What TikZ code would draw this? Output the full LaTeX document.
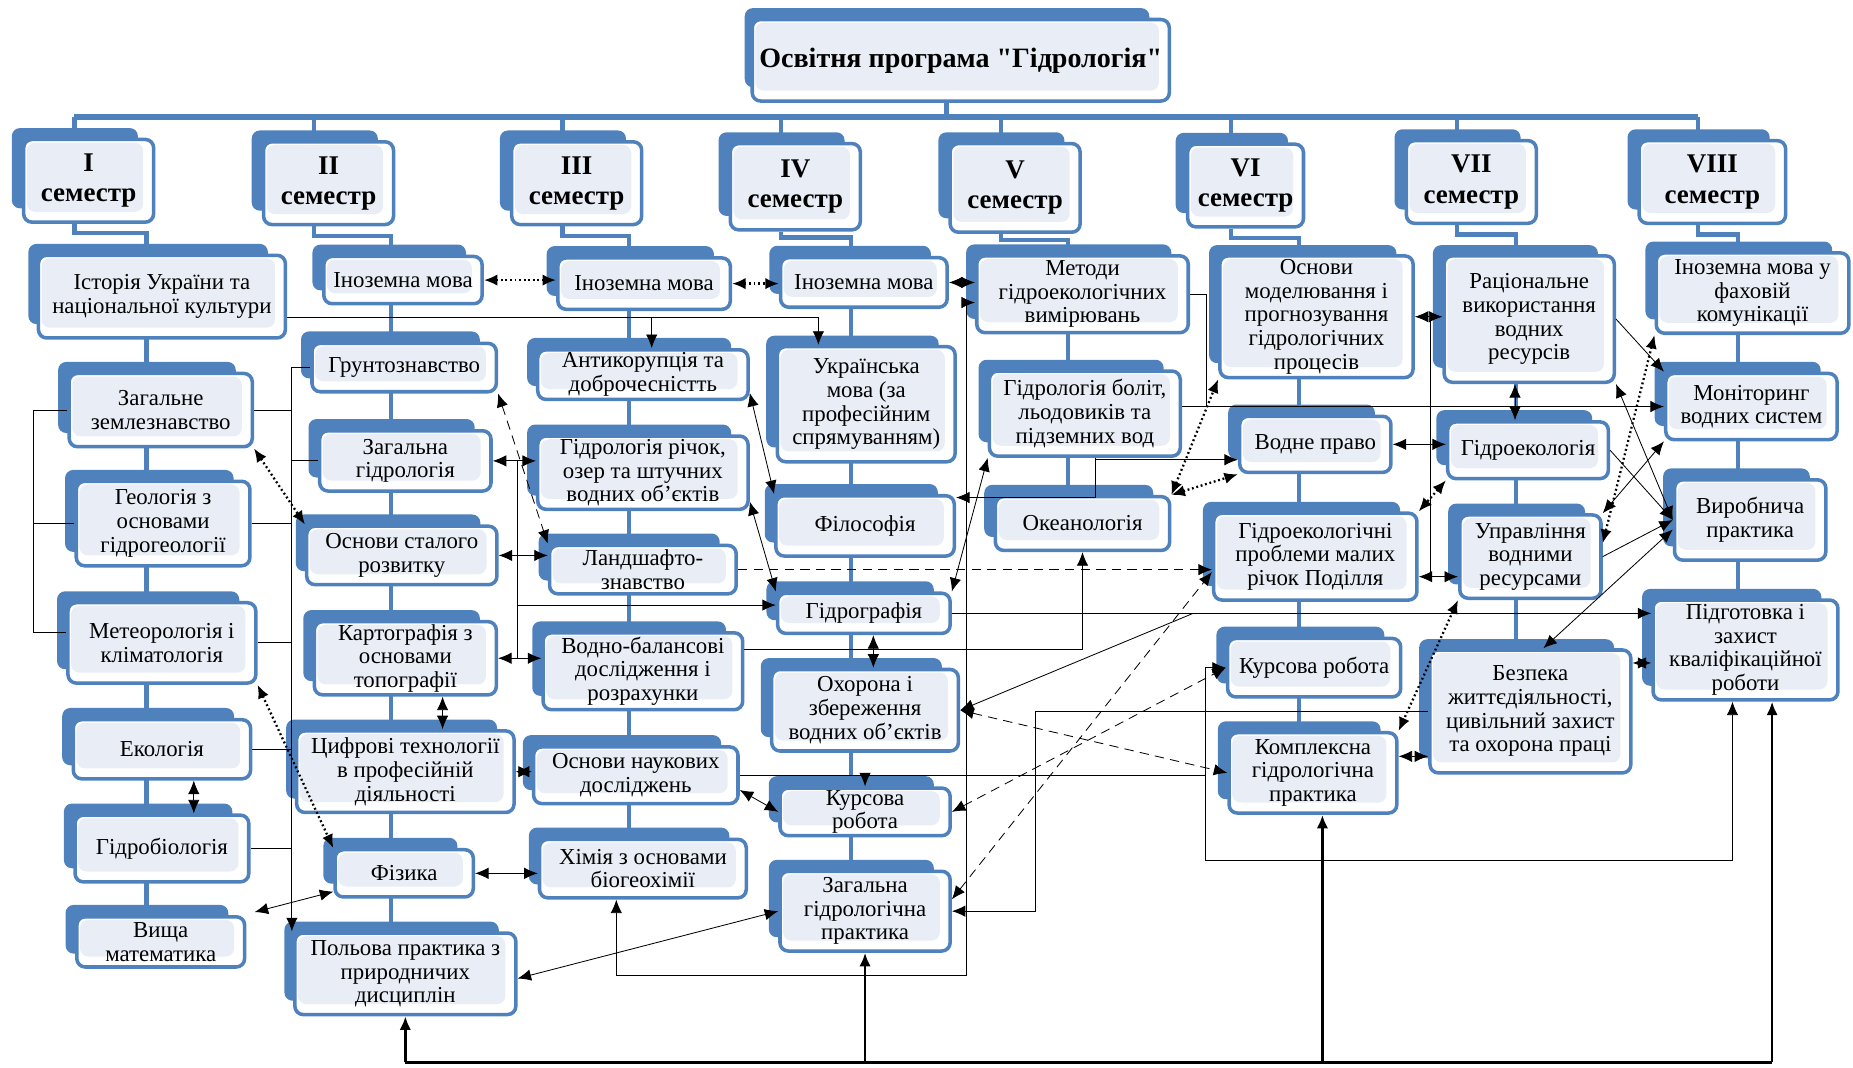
\documentclass[tikz,border=0pt]{standalone}
\usepackage{fontspec}
\setmainfont{Liberation Serif}
\usetikzlibrary{arrows.meta,shadows}

\definecolor{boxblue}{RGB}{79,129,189}
\definecolor{boxfill}{RGB}{233,238,246}
\pgfdeclarelayer{bg}
\pgfsetlayers{bg,main}
\newcommand{\qmark}{\XeTeXglyph\XeTeXcharglyph"22\relax}

\tikzset{
  box/.style={draw=boxblue, line width=1.7pt, rounded corners=4pt, fill=white,
    align=center, inner xsep=3pt, inner ysep=1pt,
    font=\fontsize{11}{11.4}\selectfont,
    general shadow={fill=boxblue, path picture={}, shadow xshift=-0.24cm, shadow yshift=0.22cm, shadow scale=0.97},
    path picture={\fill[boxfill] ([shift={(1.5pt,-1.5pt)}]path picture bounding box.north west)
      rectangle ([shift={(-5pt,5pt)}]path picture bounding box.south east);}},
  sz/.style 2 args={minimum width=#1cm, minimum height=#2cm},
  sem/.style={box, font=\fontsize{13}{14.5}\selectfont\bfseries, sz={2.2}{1.4}},
  tree/.style={draw=boxblue, line width=2pt},
  dots/.style={line width=1.1pt, dash pattern=on 0.9pt off 1.3pt},
  dashline/.style={dash pattern=on 4.5pt off 3pt},
}

\begin{document}
\begin{tikzpicture}[x=0.02cm, y=-0.02cm, line width=1pt, >={Latex[length=6.5pt,width=5.5pt]}]
    \useasboundingbox (0,0) rectangle (1568,903);

    \node[box, font=\fontsize{13.5}{15}\selectfont\bfseries, sz={7.06}{1.38}] (title) at (813,51) {Освітня програма \qmark Гідрологія\qmark};

    \node[sem] (sI) at (75,153) {I\\семестр};
    \node[sem] (sII) at (278,155) {II\\семестр};
    \node[sem] (sIII) at (488,155) {III\\семестр};
    \node[sem, minimum height=1.46cm] (sIV) at (673,158) {IV\\семестр};
    \node[sem, minimum height=1.5cm] (sV) at (859,159) {V\\семестр};
    \node[sem, minimum width=1.96cm] (sVI) at (1054,157) {VI\\семестр};
    \node[sem] (sVII) at (1245,154) {VII\\семестр};
    \node[sem, minimum width=2.48cm] (sVIII) at (1449,154) {VIII\\семестр};

    \node[box, sz={4.18}{1.4}] (histUA) at (137,251) {Історія України та\\національної культури};
    \node[box, sz={3.1}{1.24}] (zagZ) at (136,347) {Загальне\\землезнавство};
    \node[box, sz={2.94}{1.43}] (geol) at (138,443) {Геологія з\\основами\\гідрогеології};
    \node[box, sz={3.18}{1.36}] (meteo) at (137,544) {Метеорологія і\\кліматологія};
    \node[box, sz={3.0}{1.0}] (ekol) at (137,634) {Екологія};
    \node[box, sz={2.94}{1.13}] (gidrob) at (137,718) {Гідробіологія};
    \node[box, sz={2.84}{0.85}] (vysh) at (136,797) {Вища\\математика};

    \node[box, sz={2.68}{0.8}] (in2) at (341,237) {Іноземна мова};
    \node[box, sz={3.12}{0.82}] (grunt) at (342,311) {Грунтознавство};
    \node[box, sz={2.9}{1.02}] (zagH) at (343,390) {Загальна\\гідрологія};
    \node[box, sz={3.22}{0.99}] (osnSR) at (340,470) {Основи сталого\\розвитку};
    \node[box, sz={3.08}{1.24}] (kart) at (343,557) {Картографія з\\основами\\топографії};
    \node[box, sz={3.68}{1.38}] (cyfr) at (343,653) {Цифрові технології\\в професійній\\діяльності};
    \node[box, sz={2.34}{0.8}] (fiz) at (342,739) {Фізика};
    \node[box, sz={3.74}{1.38}] (polova) at (343,824) {Польова практика з\\природничих\\дисциплін};

    \node[box, sz={2.92}{0.87}] (in3) at (545,240) {Іноземна мова};
    \node[box, sz={3.56}{0.84}] (antyk) at (544,317) {Антикорупція та\\доброчесністть};
    \node[box, sz={3.56}{1.24}] (gidrR) at (544,400) {Гідрологія річок,\\озер та штучних\\водних об'єктів};
    \node[box, sz={3.16}{0.82}] (landsh) at (544,482) {Ландшафто-\\знавство};
    \node[box, sz={3.38}{1.3}] (vodnoB) at (544,568) {Водно-балансові\\дослідження і\\розрахунки};
    \node[box, sz={3.46}{0.96}] (osnND) at (538,656) {Основи наукових\\досліджень};
    \node[box, sz={3.5}{0.99}] (khim) at (544,735) {Хімія з основами\\біогеохімії};

    \node[box, sz={2.82}{0.84}] (in4) at (731,239) {Іноземна мова};
    \node[box, sz={3.01}{1.95}] (ukr) at (733,342) {Українська\\мова (за\\професійним\\спрямуванням)};
    \node[box, sz={3.02}{1.02}] (filos) at (732,445) {Філософія};
    \node[box, sz={2.92}{0.68}] (gidrogr) at (731,519) {Гідрографія};
    \node[box, sz={3.16}{1.38}] (ohor) at (732,601) {Охорона і\\збереження\\водних об'єктів};
    \node[box, sz={2.88}{0.79}] (kurs4) at (732,687) {Курсова\\робота};
    \node[box, sz={2.88}{1.35}] (zagGP) at (732,771) {Загальна\\гідрологічна\\практика};

    \node[box, sz={3.58}{1.3}] (metody) at (916,249) {Методи\\гідроекологічних\\вимірювань};
    \node[box, sz={3.23}{1.44}] (bolit) at (918,350) {Гідрологія боліт,\\льодовиків та\\підземних вод};
    \node[box, sz={2.95}{0.91}] (okean) at (916,443) {Океанологія};

    \node[box, sz={3.27}{2.06}] (osnMod) at (1114,268) {Основи\\моделювання і\\прогнозування\\гідрологічних\\процесів};
    \node[box, sz={2.56}{0.95}] (vodPr) at (1113,376) {Водне право};
    \node[box, sz={3.44}{1.47}] (gidrEkProb) at (1113,471) {Гідроекологічні\\проблеми малих\\річок Поділля};
    \node[box, sz={2.93}{0.99}] (kurs6) at (1112,565) {Курсова робота};
    \node[box, sz={2.84}{1.36}] (kompl) at (1111,654) {Комплексна\\гідрологічна\\практика};

    \node[box, sz={2.88}{2.14}] (racion) at (1294,270) {Раціональне\\використання\\водних\\ресурсів};
    \node[box, sz={2.72}{0.96}] (gidroek) at (1293,381) {Гідроекологія};
    \node[box, sz={2.39}{1.41}] (uprav) at (1295,471) {Управління\\водними\\ресурсами};
    \node[box, sz={3.4}{2.08}] (bezpeka) at (1295,602) {Безпека\\життєдіяльності,\\цивільний захист\\та охорона праці};

    \node[box, sz={3.26}{1.36}] (in8) at (1483,248) {Іноземна мова у\\фаховій\\комунікації};
    \node[box, sz={2.9}{1.12}] (monit) at (1482,344) {Моніторинг\\водних систем};
    \node[box, sz={2.56}{1.36}] (vyrob) at (1481,440) {Виробнича\\практика};
    \node[box, sz={3.13}{1.69}] (pidg) at (1477,550) {Підготовка і\\захист\\кваліфікаційної\\роботи};

    \begin{pgfonlayer}{bg}
    \draw[tree, line width=2.5pt] ([xshift=-0.24cm]title.south) -- ++(0,12) coordinate (bar);
    \draw[tree, line width=2.5pt] ([xshift=-0.24cm]sI.north |- bar) -- ([xshift=-0.24cm]sVIII.north |- bar);
    \foreach \s in {sI,sII,sIII,sIV,sV,sVI,sVII,sVIII}
        \draw[tree] ([xshift=-0.24cm]\s.north |- bar) -- ([xshift=-0.24cm]\s.north);
    \draw[tree] ([xshift=-0.24cm]sI.south) -- ++(0,8) -| ([xshift=-0.24cm]vysh.north);
    \draw[tree] ([xshift=-0.24cm]sII.south) -- ++(0,8) -| ([xshift=-0.24cm]polova.north);
    \draw[tree] ([xshift=-0.24cm]sIII.south) -- ++(0,8) -| ([xshift=-0.24cm]khim.north);
    \draw[tree] ([xshift=-0.24cm]sIV.south) -- ++(0,5) -| ([xshift=-0.24cm]zagGP.north);
    \draw[tree] ([xshift=-0.24cm]sV.south) -- ++(0,5) -| ([xshift=-0.24cm]okean.north);
    \draw[tree] ([xshift=-0.24cm]sVI.south) -- ++(0,8) -| ([xshift=-0.24cm]kompl.north);
    \draw[tree] ([xshift=-0.24cm]sVII.south) -- ++(0,8) -| ([xshift=-0.24cm]bezpeka.north);
    \draw[tree] ([xshift=-0.24cm]sVIII.south) -- ++(0,8) -| ([xshift=-0.12cm]pidg.north);
    \end{pgfonlayer}

    \coordinate (brL) at (28,0);
    \coordinate (busL) at (247,0);
    \coordinate (busM) at (438,0);
    \coordinate (jV) at (818,825);
    \coordinate (jZ) at (876,0);
    \coordinate (jB) at (1020,0);
    \coordinate (jC) at (1020,728);
    \coordinate (jM) at (1021,0);
    \coordinate (jR) at (1210,0);
    \coordinate (busB) at (0,899);

    \draw (zagZ.west) -| ([yshift=0.18cm]brL |- meteo.west) -- ([yshift=0.18cm]meteo.west);
    \draw (geol.west) -- (geol.west -| brL);
    \draw[->] (grunt.west) -| (busL |- polova.north);
    \foreach \n in {zagZ,geol,meteo,ekol,gidrob}
        \draw (\n.east) -- (\n.east -| busL);
    \draw (zagH.west) -- (zagH.west -| busL);

    \draw[<->, dots] (zagZ.south east) -- (osnSR.north west);
    \draw[<->, dots] (meteo.south east) -- (fiz.north west);
    \draw[<->, dashline] (grunt.south east) -- (landsh.north west);
    \draw[<->] ([xshift=0.54cm]ekol.south) -- ([xshift=0.54cm]gidrob.north);
    \draw[<->] ([shift={(0.14cm,0.05cm)}]vysh.north east) -- ([yshift=0.12cm]fiz.south west);
    \draw[<->] (fiz.east) -- (fiz.east -| khim.west);
    \draw[<->] ([xshift=0.63cm]kart.south) -- ([xshift=0.63cm]cyfr.north);
    \draw[<->] (cyfr.east) -- (cyfr.east -| osnND.west);

    \draw[<->] (zagH.east) -- (zagH.east -| gidrR.west);
    \draw[<->] (osnSR.east) -- (osnSR.east -| landsh.west);
    \draw[<->] (kart.east) -- (kart.east -| vodnoB.west);
    \draw (busM |- zagH.east) -- (busM |- kart.east);
    \draw[->] ([yshift=0.14cm]gidrogr.west -| busM) -- ([yshift=0.14cm]gidrogr.west);

    \draw[<->, dots] (in2.east) -- (in2.east -| in3.west);
    \draw[<->, dots] (in3.east) -- (in3.east -| in4.west);
    \draw[<->] (in4.east) -- (in4.east -| metody.west);
    \draw[->] ([yshift=-0.36cm]histUA.east) coordinate (hL) -| ([xshift=-0.81cm]ukr.north);
    \draw[->] ([xshift=0.15cm]antyk.north |- hL) -- ([xshift=0.15cm]antyk.north);

    \draw[<->] ([yshift=0.14cm]antyk.south east) -- (filos.north west);
    \draw[<->] ([yshift=0.16cm]gidrR.south east) -- (gidrogr.north west);
    \draw[<->] (gidrogr.north east) -- (bolit.south west);
    \draw[<->] ([xshift=0.16cm]gidrogr.south) -- ([xshift=0.16cm]gidrogr.south |- ohor.north);
    \draw[->] (gidrogr.east) -- coordinate[pos=0.345] (brO) (gidrogr.east -| pidg.west);
    \draw[->] (brO) -- (ohor.east);
    \draw[->] ([yshift=0.37cm]vodnoB.east) -| (okean.south);
    \draw[<->] ([yshift=-0.06cm]filos.north east) -| ([xshift=0.18cm]bolit.south) |- ([yshift=-0.26cm]vodPr.west);
    \draw[<->] ([xshift=-0.45cm]khim.south) |- (jV) |- ([yshift=-0.14cm]metody.west);

    \draw (metody.east) -| (jM |- monit.west);
    \draw[->] (bolit.east |- monit.west) -- (monit.west);
    \draw[<->, dots] (okean.north east) -- (osnMod.south west);
    \draw[<->, dots] (okean.north east) -- (vodPr.south west);
    \draw[<->] (osnMod.east) -- (osnMod.east -| racion.west);
    \draw[<->] ([yshift=-0.34cm]gidrEkProb.east) coordinate (gU) -- (gU -| uprav.west);
    \draw (jR |- osnMod.east) -- (jR |- gU);
    \draw[<->] (vodPr.east) -- (vodPr.east -| gidroek.west);
    \draw[<->] ([xshift=-0.24cm]racion.south) -- ([xshift=-0.24cm]racion.south |- gidroek.north);
    \draw[<->, dots] (gidroek.south west) -- (gidrEkProb.north east);

    \draw[->, dashline] (landsh.east) -- (landsh.east -| gidrEkProb.west);
    \draw[<->, dashline] (ohor.east) -- (kompl.west);
    \draw[<->, dashline] (kurs4.east) -- (kurs6.west);
    \draw[<->, dashline] ([yshift=0.2cm]zagGP.east) -- ([yshift=-0.26cm]gidrEkProb.west);

    \draw (osnND.east) -- (osnND.east -| jB) coordinate (jB1);
    \draw[->] (jB1) |- (kurs6.west);
    \draw[->] (jB1) -- (jC) -| ([xshift=-0.22cm]pidg.south);
    \draw[->] (osnND.east -| kurs4.north) -- (kurs4.north);
    \draw[<->] ([yshift=-0.25cm]osnND.east) -- (kurs4.west);
    \draw[<->] ([yshift=-0.08cm]polova.east) -- (zagGP.west);
    \draw[->] (bezpeka.west) -| (jZ |- zagGP.east) -- (zagGP.east);

    \draw[->] (racion.east) -- (monit.north west);
    \draw[<->] (racion.south east) -- (vyrob.west);
    \draw[->] (gidroek.east) -- (vyrob.west);
    \draw[<->] (uprav.north east) -- (monit.south west);
    \draw[->] (uprav.east) -- (vyrob.west);
    \draw[<->, dots] (in8.south west) -- ([yshift=0.23cm]uprav.east);
    \draw[<->] ([yshift=-0.16cm]vyrob.west) -- ([xshift=0.22cm]bezpeka.north);
    \draw[<->] ([yshift=-0.22cm]pidg.west -| bezpeka.east) -- ([yshift=-0.22cm]pidg.west);
    \draw[<->, dots] (uprav.south west) -- (kompl.north east);
    \draw[<->] ([yshift=0.28cm]kompl.east) -- ([yshift=0.28cm]kompl.east -| bezpeka.west);

    \draw[line width=1.5pt] (polova.south |- busB) -- ([xshift=0.45cm]pidg.south |- busB);
    \draw[->, line width=1.3pt] (polova.south |- busB) -- (polova.south);
    \draw[->, line width=1.3pt] (zagGP.south |- busB) -- (zagGP.south);
    \draw[->, line width=1.3pt] ([xshift=0.16cm]kompl.south |- busB) -- ([xshift=0.16cm]kompl.south);
    \draw[->, line width=1.3pt] ([xshift=0.45cm]pidg.south |- busB) -- ([xshift=0.45cm]pidg.south);

\end{tikzpicture}
\end{document}
